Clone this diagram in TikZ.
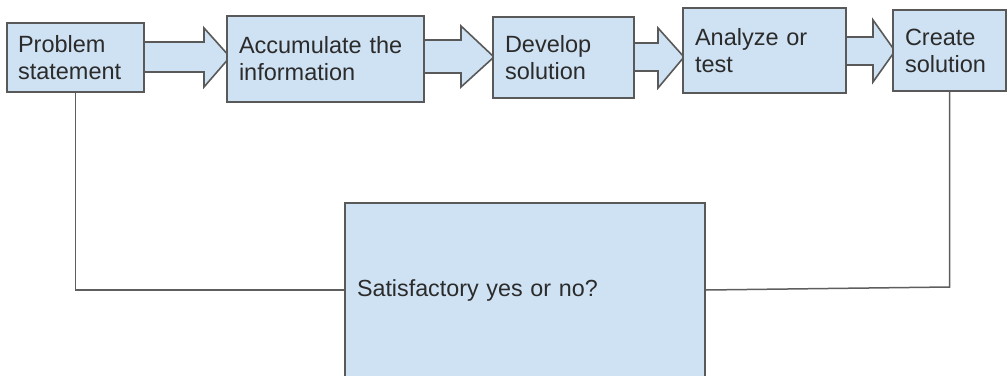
\documentclass[tikz,border=0pt]{standalone}
\usepackage{fontspec}
\setmainfont{Liberation Sans}
\usetikzlibrary{calc}
\definecolor{boxfill}{HTML}{CFE2F3}
\definecolor{boxline}{HTML}{595959}
\definecolor{txt}{HTML}{2B2B2B}
\definecolor{conn}{HTML}{5E5E5E}
\tikzset{
  stepbox/.style={draw=boxline, line width=1.6pt, fill=boxfill, rectangle,
    inner xsep=12pt, inner ysep=0pt, align=left, text=txt,
    font=\fontsize{23.5}{27}\selectfont},
  blockarrow/.style={draw=boxline, line width=1.6pt, fill=boxfill, line join=miter},
  connline/.style={draw=conn, line width=1.5pt}
}
\begin{document}
\begin{tikzpicture}[x=1pt,y=-1pt]
\useasboundingbox (0,0) rectangle (1008,375);
% block arrows
\draw[blockarrow] (140,42) -- (204,42) -- (204,28) -- (230,57) -- (204,87) -- (204,72) -- (140,72) -- cycle;
\draw[blockarrow] (420,40) -- (461,40) -- (461,26) -- (494,57) -- (461,87) -- (461,73) -- (420,73) -- cycle;
\draw[blockarrow] (630,43) -- (658,43) -- (658,28) -- (684,57) -- (658,88) -- (658,71) -- (630,71) -- cycle;
\draw[blockarrow] (842,37) -- (873,37) -- (873,20) -- (895,51) -- (873,82) -- (873,65) -- (842,65) -- cycle;
% boxes
\node[stepbox, minimum width=137pt, minimum height=69pt, text width=115pt, inner xsep=11pt] (b1) at (75.5,57.5) {Problem\\statement};
\node[stepbox, minimum width=197pt, minimum height=86pt, text width=173pt] (b2) at (325.5,59) {Accumulate the\\information};
\node[stepbox, minimum width=141pt, minimum height=81pt, text width=117pt] (b3) at (563.5,57.5) {Develop\\solution};
\node[stepbox, minimum width=163pt, minimum height=85pt, text width=139pt] (b4) at (764.5,50.5) {Analyze or\\test};
\node[stepbox, minimum width=113pt, minimum height=81pt, text width=89pt] (b5) at (949.5,50.5) {Create\\solution};
\node[stepbox, minimum width=360pt, minimum height=174pt, text width=336pt, font=\fontsize{23.3}{27}\selectfont] (sat) at (525,290) {Satisfactory yes or no?};
% feedback lines
\coordinate (rc) at (b5.south |- 0,287);
\draw[connline] (b1.south) -- (b1.south |- sat.west) -- (sat.west);
\draw[connline] (b5.south) -- (rc) -- (sat.east);
\end{tikzpicture}
\end{document}
